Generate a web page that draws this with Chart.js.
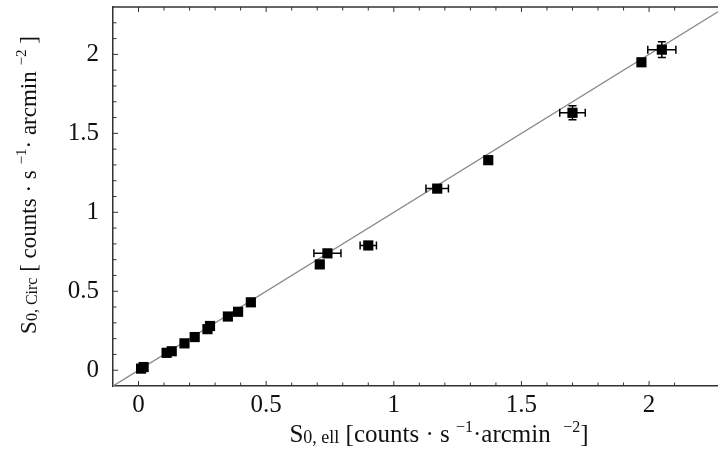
<!DOCTYPE html>
<html>
<head>
<meta charset="utf-8">
<script src="https://cdn.jsdelivr.net/npm/chart.js@4/dist/chart.umd.min.js"></script>
<style>
  body { margin: 0; background: #fff; overflow: hidden; }
</style>
</head>
<body>
<canvas id="chart" width="718" height="454"></canvas>
<script>
// values
const sEll = [0.01, 0.02, 0.11, 0.13, 0.18, 0.22, 0.27, 0.28, 0.35, 0.39, 0.44, 0.71, 0.74, 0.90, 1.17, 1.37, 1.70, 1.97, 2.05];
const sCirc = [0.01, 0.02, 0.11, 0.12, 0.17, 0.21, 0.26, 0.28, 0.34, 0.37, 0.43, 0.67, 0.74, 0.79, 1.15, 1.33, 1.63, 1.95, 2.03];
const errEll = [0, 0, 0, 0, 0, 0, 0, 0, 0, 0, 0, 0, 0.053, 0.032, 0.044, 0, 0.05, 0, 0.055];
const errCirc = [0, 0, 0, 0, 0, 0, 0, 0, 0, 0, 0, 0, 0, 0, 0, 0, 0.044, 0, 0.05];
const oneToOne = [-0.1, 2.3];
const majorTicks = [0, 0.5, 1, 1.5, 2];

const xRange = [-0.1, 2.27];
const yRange = [-0.1, 2.3];

const SERIF = '"Liberation Serif", "DejaVu Serif", serif';
const AXIS_COLOR = '#333';

function tickLabel(v) {
    const m = majorTicks.find(t => Math.abs(t - v) < 1e-6);
    return m === undefined ? '' : String(m);
}

// draw a line of text with sub/superscript pieces, centred on x
function drawRich(ctx, parts, x, y) {
    let total = 0;
    parts.forEach(p => {
        ctx.font = p.size + 'px ' + SERIF;
        p.w = ctx.measureText(p.t).width;
        total += p.w;
    });
    let cx = x - total / 2;
    ctx.textBaseline = 'alphabetic';
    ctx.textAlign = 'left';
    parts.forEach(p => {
        ctx.font = p.size + 'px ' + SERIF;
        ctx.fillText(p.t, cx, y + (p.dy || 0));
        cx += p.w;
    });
}

const xTitle = [
    { t: 'S', size: 25 },
    { t: '0, ell', size: 18, dy: 1 },
    { t: ' [counts \u00b7 s ', size: 25 },
    { t: '\u22121', size: 16, dy: -10 },
    { t: '\u00b7arcmin  ', size: 25 },
    { t: '\u22122', size: 16, dy: -10 },
    { t: ']', size: 25 }
];
const yTitle = [
    { t: 'S', size: 23 },
    { t: '0, Circ', size: 16, dy: 1 },
    { t: ' [ counts \u00b7 s ', size: 23 },
    { t: '\u22121', size: 15, dy: -10 },
    { t: '\u00b7 arcmin ', size: 23 },
    { t: '\u22122', size: 15, dy: -10 },
    { t: ' ]', size: 23 }
];

const framePlugin = {
    id: 'frame',
    afterDatasetsDraw(chart) {
        const ctx = chart.ctx;
        const xs = chart.scales.x, ys = chart.scales.y;
        ctx.save();
        ctx.strokeStyle = '#000';
        ctx.lineWidth = 1.5;
        sEll.forEach((xv, i) => {
            const px = xs.getPixelForValue(xv), py = ys.getPixelForValue(sCirc[i]);
            if (errEll[i] > 0) {
                const a = xs.getPixelForValue(xv - errEll[i]), b = xs.getPixelForValue(xv + errEll[i]);
                ctx.beginPath();
                ctx.moveTo(a, py); ctx.lineTo(b, py);
                ctx.moveTo(a, py - 4); ctx.lineTo(a, py + 4);
                ctx.moveTo(b, py - 4); ctx.lineTo(b, py + 4);
                ctx.stroke();
            }
            if (errCirc[i] > 0) {
                const a = ys.getPixelForValue(sCirc[i] - errCirc[i]), b = ys.getPixelForValue(sCirc[i] + errCirc[i]);
                ctx.beginPath();
                ctx.moveTo(px, a); ctx.lineTo(px, b);
                ctx.moveTo(px - 4, a); ctx.lineTo(px + 4, a);
                ctx.moveTo(px - 4, b); ctx.lineTo(px + 4, b);
                ctx.stroke();
            }
        });
        ctx.restore();
    },
    afterDraw(chart) {
        const ctx = chart.ctx;
        const area = chart.chartArea;
        const xs = chart.scales.x, ys = chart.scales.y;
        ctx.save();
        ctx.strokeStyle = AXIS_COLOR;
        ctx.lineWidth = 1.5;
        // top border
        ctx.beginPath();
        ctx.moveTo(area.left, area.top);
        ctx.lineTo(area.right, area.top);
        ctx.stroke();
        // inward ticks every 0.1
        ctx.lineWidth = 1;
        const onStep = v => Math.abs(v * 10 - Math.round(v * 10)) < 1e-6;
        xs.ticks.forEach(t => {
            if (!onStep(t.value)) return;
            const px = xs.getPixelForValue(t.value);
            if (px <= area.left + 2 || px >= area.right - 1) return;
            const len = tickLabel(t.value) ? 5 : 3.5;
            ctx.beginPath();
            ctx.moveTo(px, area.bottom); ctx.lineTo(px, area.bottom - len);
            ctx.moveTo(px, area.top); ctx.lineTo(px, area.top + len);
            ctx.stroke();
        });
        ys.ticks.forEach(t => {
            if (!onStep(t.value)) return;
            const py = ys.getPixelForValue(t.value);
            if (py >= area.bottom - 2 || py <= area.top + 2) return;
            const len = tickLabel(t.value) ? 5 : 3.5;
            ctx.beginPath();
            ctx.moveTo(area.left, py); ctx.lineTo(area.left + len, py);
            ctx.stroke();
        });
        // axis titles
        ctx.fillStyle = '#111';
        drawRich(ctx, xTitle, 439, 442);
        ctx.translate(36, 185);
        ctx.rotate(-Math.PI / 2);
        drawRich(ctx, yTitle, 0, 0);
        ctx.restore();
    }
};

const points = sEll.map((x, i) => ({ x: x, y: sCirc[i] }));

new Chart(document.getElementById('chart'), {
    type: 'scatter',
    data: {
        datasets: [{
            label: 'S0',
            data: points,
            pointStyle: 'rect',
            pointRadius: 7.2,
            pointHoverRadius: 7.2,
            backgroundColor: '#000',
            borderColor: '#000',
            borderWidth: 0
        }, {
            label: 'one to one',
            type: 'line',
            data: oneToOne.map(v => ({ x: v, y: v })),
            borderColor: '#8a8a8a',
            borderWidth: 1.4,
            pointRadius: 0,
            fill: false
        }]
    },
    options: {
        responsive: false,
        animation: false,
        layout: { autoPadding: false, padding: { top: 7, left: 0, right: 0, bottom: 0 } },
        plugins: {
            legend: { display: false },
            tooltip: { enabled: false }
        },
        scales: {
            x: {
                type: 'linear',
                min: xRange[0],
                max: xRange[1],
                grid: { display: false, drawTicks: false },
                border: { display: true, color: AXIS_COLOR, width: 1.5 },
                ticks: {
                    stepSize: 0.1,
                    autoSkip: false,
                    maxRotation: 0,
                    padding: 4,
                    color: '#111',
                    font: { family: SERIF, size: 25 },
                    callback: v => tickLabel(v)
                },
                afterFit: s => {
                    s.height = 68;
                    s.paddingLeft = 0;
                    s.paddingRight = 0;
                }
            },
            y: {
                type: 'linear',
                min: yRange[0],
                max: yRange[1],
                grid: { display: false, drawTicks: false },
                border: { display: true, color: AXIS_COLOR, width: 1.5 },
                ticks: {
                    stepSize: 0.1,
                    autoSkip: false,
                    padding: 14,
                    color: '#111',
                    font: { family: SERIF, size: 25 },
                    callback: v => tickLabel(v)
                },
                afterFit: s => {
                    s.width = 113;
                    s.paddingTop = 0;
                    s.paddingBottom = 0;
                }
            }
        }
    },
    plugins: [framePlugin]
});
</script>
</body>
</html>
